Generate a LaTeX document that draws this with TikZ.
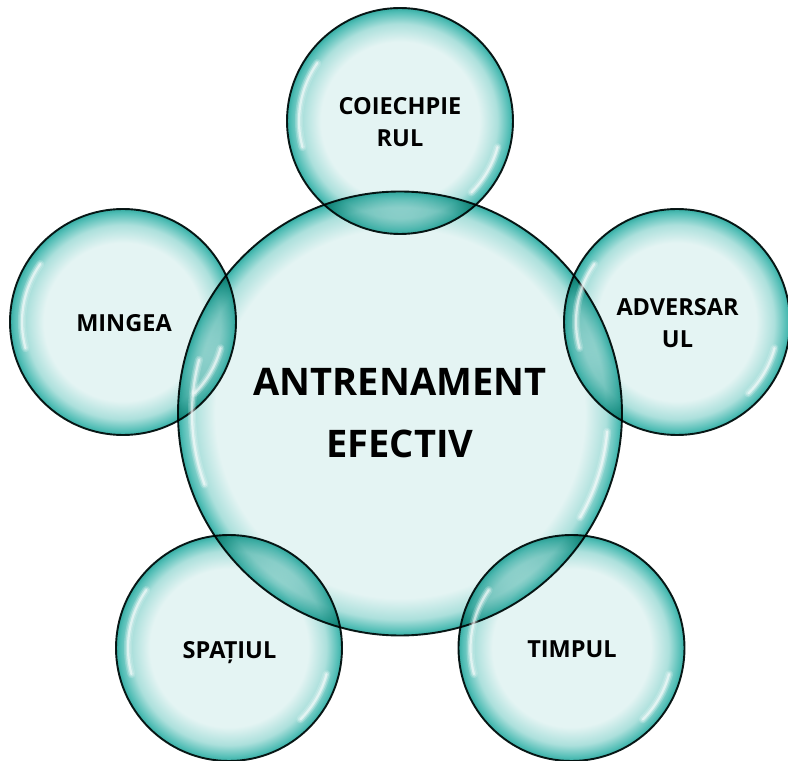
\documentclass[tikz,border=0pt]{standalone}
\usepackage{fontspec}
\setmainfont{Open Sans}
\definecolor{bubin}{HTML}{E4F4F3}
\definecolor{bubmid}{HTML}{ACE0DC}
\definecolor{bubrim}{HTML}{50BDB5}
\definecolor{bubedge}{HTML}{36ABA2}
\definecolor{outl}{HTML}{0E1C1B}
\pgfdeclareradialshading{bubsmall}{\pgfpoint{0bp}{0bp}}{color(0bp)=(bubin); color(17.5bp)=(bubin); color(21.5bp)=(bubmid); color(24.2bp)=(bubrim); color(25bp)=(bubedge); color(50bp)=(bubedge)}
\pgfdeclareradialshading{bubbig}{\pgfpoint{0bp}{0bp}}{color(0bp)=(bubin); color(20.8bp)=(bubin); color(23.2bp)=(bubmid); color(24.6bp)=(bubrim); color(25bp)=(bubedge); color(50bp)=(bubedge)}
\tikzset{
  bubble/.style={circle, draw=outl, line width=1.9pt, blend mode=multiply, inner sep=0pt},
  bigbub/.style={bubble, shading=bubbig, minimum size=444pt},
  smallbub/.style={bubble, shading=bubsmall, minimum size=226pt},
  hla/.style={white, line width=8pt, line cap=round, opacity=0.18},
  hlb/.style={white, line width=5pt, line cap=round, opacity=0.3},
  hlc/.style={white, line width=2.2pt, line cap=round, opacity=0.55},
  biglabel/.style={font=\bfseries\fontsize{38}{62}\selectfont, align=center, inner sep=0pt},
  smalllabel/.style={font=\bfseries\fontsize{23.5}{32}\selectfont, align=center, inner sep=0pt}
}
\newcommand\hlarc[4]{% node, start, end, radius
  \foreach \st in {hla,hlb,hlc}{
    \draw[\st] ([shift={(#2:#4)}]#1.center) arc[start angle=#2, end angle=#3, radius=#4];
  }}
\begin{document}
\begin{tikzpicture}[x=1pt,y=1pt]
\useasboundingbox (0,0) rectangle (788,761);
% bubbles
\node[bigbub] (main) at (400,347.5) {};
\node[smallbub] (top) at (400,640) {};
\node[smallbub] (left) at (123,439) {};
\node[smallbub] (right) at (677,439) {};
\node[smallbub] (bl) at (229,113) {};
\node[smallbub] (br) at (571.5,113) {};
% highlights
\foreach \n in {top,left,right,bl,br}{
  \hlarc{\n}{145}{195}{101pt}
  \hlarc{\n}{-15}{-45}{101pt}
}
\hlarc{main}{165}{200}{208pt}
\hlarc{main}{-5}{-30}{208pt}
% labels
\node[biglabel] (tmain) at (400,347.5) {ANTRENAMENT\\EFECTIV};
\node[smalllabel] (ttop) at (400,639) {COIECHPIE\\RUL};
\node[smalllabel] (tleft) at (124,438) {MINGEA};
\node[smalllabel] (tright) at (677.5,438) {ADVERSAR\\UL};
\node[smalllabel, text depth=0pt] (tbl) at (229.5,111.5) {SPAȚIUL};
\node[smalllabel] (tbr) at (572,112) {TIMPUL};
\end{tikzpicture}
\end{document}
